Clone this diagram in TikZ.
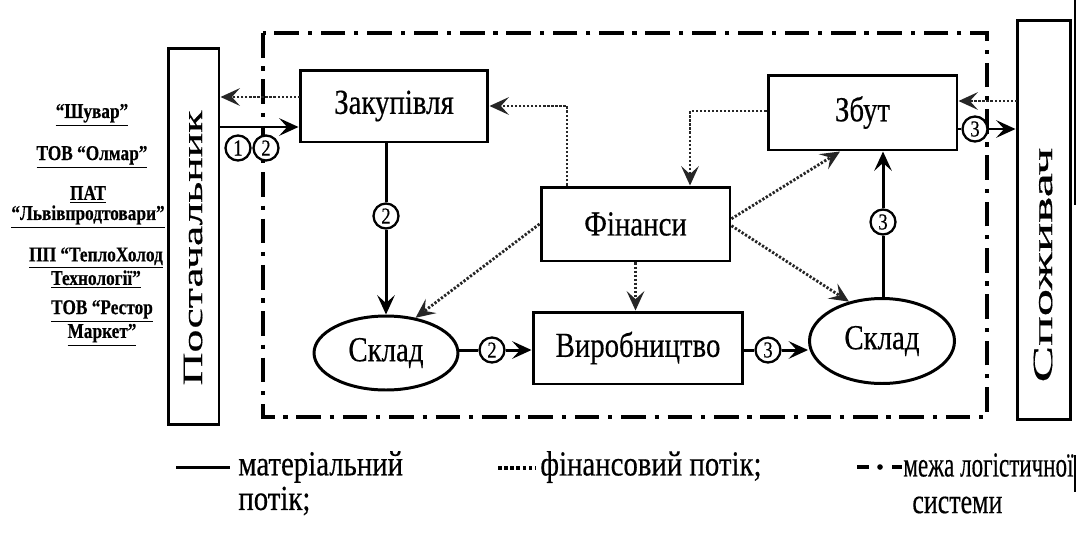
\documentclass[tikz,border=0pt]{standalone}
\usepackage{fontspec}
\usepackage{graphicx}
\setmainfont[FakeStretch=0.82,FakeBold=0.4]{Liberation Serif}
\usetikzlibrary{arrows.meta,shapes.geometric,calc}

\begin{document}
\begin{tikzpicture}[x=0.02cm,y=-0.02cm,
  box/.style={draw,line width=1.7pt,rectangle,inner sep=0pt,font=\fontsize{20}{22}\selectfont},
  store/.style={draw,line width=1.7pt,ellipse,inner sep=0pt,minimum width=2.88cm,minimum height=1.48cm,font=\fontsize{20}{22}\selectfont},
  party/.style={draw,line width=1.7pt,rectangle,inner sep=0pt},
  num/.style={draw,circle,line width=1.3pt,fill=white,minimum size=0.5cm,inner sep=0pt,font=\fontsize{13}{13}\selectfont},
  mat/.style={line width=1.7pt},
  money/.style={line width=1.6pt,black!85,dash pattern=on 1.3pt off 1.0pt},
  tip/.style={-{Stealth[length=11pt,width=10pt,inset=4.5pt]}},
  border/.style={line width=2.2pt,dash pattern=on 14pt off 5pt on 2.4pt off 5pt},
  firm/.style={font=\bfseries\fontsize{12}{11.4}\selectfont,align=center,inner sep=0pt},
  legend/.style={font=\fontsize{20}{21}\selectfont,inner sep=0pt}
]
\useasboundingbox (0,0) rectangle (1077,548);
\fill[white] (0,0) rectangle (1077,548);

% boundary of the logistics system
\draw[border] (263,33) rectangle (987,417);

% suppliers
\node[firm] (s1) at (92,115) {\underline{“Шувар”}};
\node[firm] (s2) at (92,157) {\underline{ТОВ “Олмар”}};
\node[firm] (s3) at (88,207) {\underline{ПАТ}\\\underline{“Львівпродтовари”}};
\node[firm] (s4) at (96,268) {\underline{ПП “ТеплоХолод}\\\underline{Технології”}};
\node[firm] (s5) at (102,323) {\underline{ТОВ “Рестор}\\\underline{Маркет”}};

% outer parties
\node[party,minimum width=1.02cm,minimum height=7.54cm] (post) at (193.5,236.5) {};
\node[rotate=90] (postt) at (193,248) {\resizebox{5.5cm}{0.37cm}{Постачальник}};
\node[party,minimum width=1.06cm,minimum height=8.0cm] (spoz) at (1043.5,220) {};
\node[rotate=90] (spozt) at (1043,265) {\resizebox{4.7cm}{0.37cm}{Споживач}};

% inner blocks
\node[box,minimum width=3.76cm,minimum height=1.44cm] (zak) at (394,106) {Закупівля};
\node[box,minimum width=3.78cm,minimum height=1.5cm] (zbut) at (862.5,112.5) {Збут};
\node[box,minimum width=3.78cm,minimum height=1.48cm] (fin) at (635.5,224) {Фінанси};
\node[box,minimum width=4.2cm,minimum height=1.44cm] (vyr) at (638,348) {Виробництво};
\node[store] (sk1) at (386,353) {Склад};
\node[store,minimum width=2.9cm,minimum height=1.7cm] (sk2) at (882,341) {Склад};

% material flows
\coordinate (m1) at (219,127);
\draw[mat,tip] (m1) -- (m1 -| zak.west);
\node[num] (c1) at (238,148) {1};
\node[num] (c2) at (266,148) {2};

\node[num] (c3) at (386,216) {2};
\draw[mat] (zak.south -| c3) -- (c3);
\draw[mat,tip] (c3) -- (sk1.north);

\node[num] (c4) at (492,350) {2};
\draw[mat] (sk1.east |- c4) -- (c4);
\draw[mat,tip] (c4) -- (c4 -| vyr.west);

\node[num] (c5) at (768,350) {3};
\draw[mat] (vyr.east |- c5) -- (c5);
\draw[mat,tip] (c5) -- (c5 -| sk2.west);

\node[num] (c6) at (883,222) {3};
\draw[mat] (sk2.north -| c6) -- (c6);
\draw[mat,tip] (c6) -- (c6 |- zbut.south);

\node[num] (c7) at (975,129) {3};
\draw[mat] (zbut.east |- c7) -- (c7);
\draw[mat,tip] (c7) -- (c7 -| spoz.west);

% financial flows
\coordinate (d1) at (300,97);
\draw[money,tip] (d1) -- (d1 -| post.east);
\coordinate (d2) at (1017,101);
\draw[money,tip] (d2) -- (d2 -| zbut.east);
\coordinate (f1) at (567,106);
\draw[money,tip] (f1 |- fin.north) -- (f1) -- (f1 -| zak.east);
\coordinate (f2) at (690,111);
\draw[money,tip] (f2 -| zbut.west) -- (f2) -- (f2 |- fin.north);
\draw[money,tip] (fin.south) -- (fin.south |- vyr.north);
\draw[money,tip] (fin.west) -- (sk1.50);
\draw[money,tip] ([yshift=3pt]fin.east) -- (zbut.south -| 840,0);
\draw[money,tip] ([yshift=-1pt]fin.east) -- (sk2.130);

% legend
\coordinate (l1) at (176,467);
\draw[mat] (l1) -- ++(54,0);
\node[legend,anchor=west] (t1) at (238,467) {матеріальний};
\node[legend,anchor=west] (t1b) at (238,501) {потік;};
\coordinate (l2) at (498,468);
\draw[line width=2.6pt,dash pattern=on 2pt off 1.5pt] (l2) -- ++(38,0);
\node[legend,anchor=west] (t2) at (540,467) {фінансовий потік;};
\coordinate (l3) at (857,467);
\draw[line width=2.4pt] (l3) -- ++(12,0);
\fill (880,467) circle (1.6pt);
\draw[line width=2.4pt] (892,467) -- ++(10,0);
\node[legend,anchor=west] (t3) at (903,465) {\scalebox{0.8}[1]{межа логістичної}};
\node[legend,anchor=west] (t3b) at (912,505) {\scalebox{0.9}[1]{системи}};

% page edge
\draw[line width=1.4pt] (1075,0) -- (1075,205);
\draw[line width=1.4pt] (1075,455) -- (1075,492);
\end{tikzpicture}
\end{document}
